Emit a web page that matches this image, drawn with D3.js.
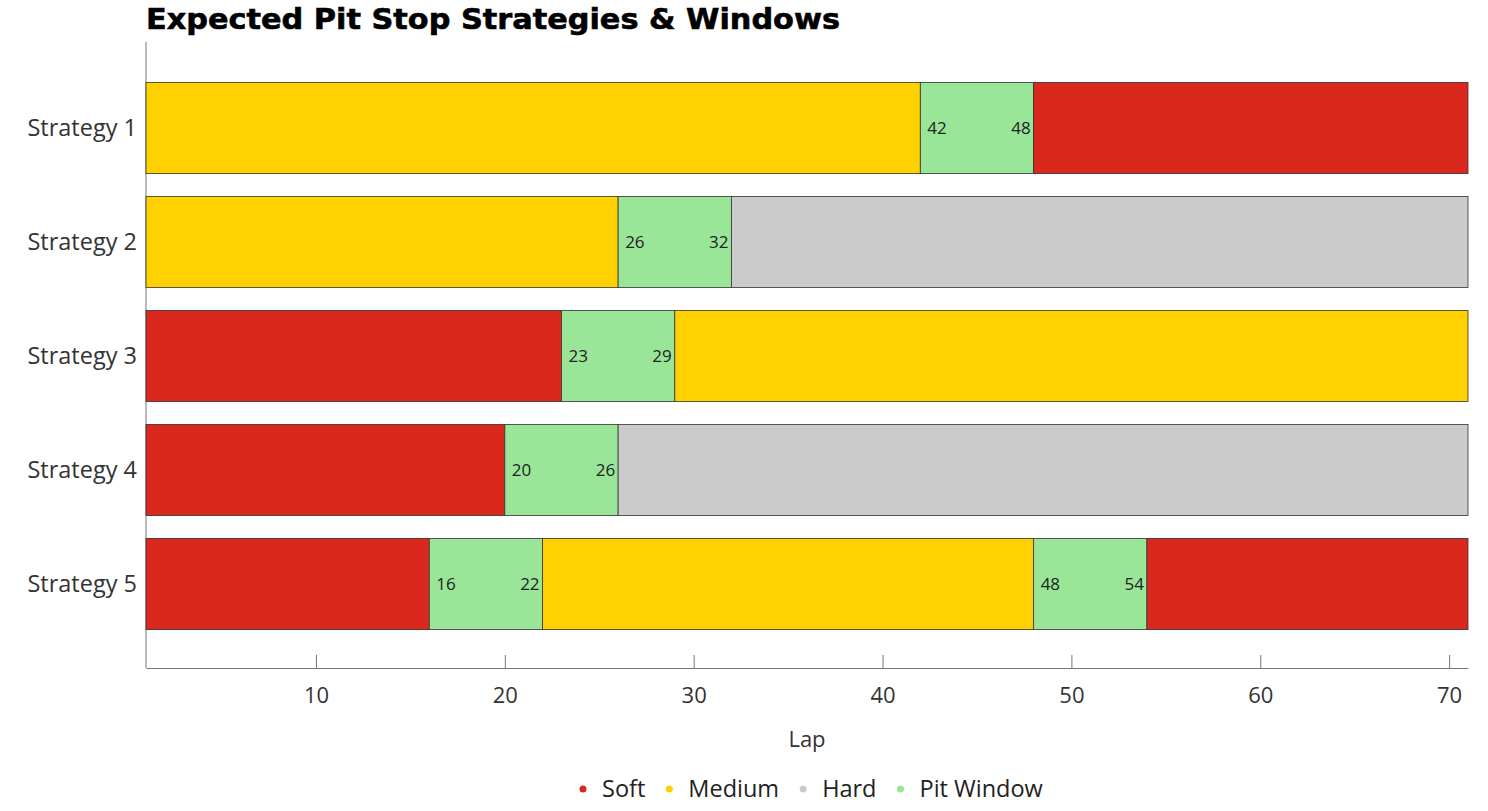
<!DOCTYPE html>
<html><head><meta charset="utf-8">
<script src="https://cdn.jsdelivr.net/npm/d3@7"></script>
<style>body{margin:0;background:#fff}svg{display:block}</style>
</head><body>
<script>
const strategies = ["Strategy 1","Strategy 2","Strategy 3","Strategy 4","Strategy 5"];
const segStart = [[1,42,48],[1,26,32],[1,23,29],[1,20,26],[1,16,22,48,54]];
const segEnd   = [[42,48,71],[26,32,71],[23,29,71],[20,26,71],[16,22,48,54,71]];
const segType  = [["Medium","Pit","Soft"],["Medium","Pit","Hard"],["Soft","Pit","Medium"],["Soft","Pit","Hard"],["Soft","Pit","Medium","Pit","Soft"]];
const legendLabels = ["Soft","Medium","Hard","Pit Window"];
const legendKeys = ["Soft","Medium","Hard","Pit"];
const xTicks = [10,20,30,40,50,60,70];
const lapDomain = [1,71];

const colors = {Soft:"#DA291C", Medium:"#FFD100", Hard:"#CBCBCB", Pit:"#99E699"};
const W=1488,H=811;
const svg=d3.select("body").append("svg").attr("width",W).attr("height",H);
const font="'Open Sans', sans-serif";
const x=d3.scaleLinear().domain(lapDomain).range([146,1468]);
const y=d3.scaleBand().domain(strategies).range([71,641]).paddingInner(0.2).paddingOuter(0.1);

svg.append("text").attr("x",146).attr("y",29).text("Expected Pit Stop Strategies & Windows")
  .attr("font-family","'DejaVu Sans', sans-serif").attr("font-weight","bold").attr("font-size",29)
  .attr("textLength",694).attr("lengthAdjust","spacingAndGlyphs").attr("fill","#000")
  .attr("stroke","#000").attr("stroke-width",0.6);

// axes
const gx=svg.append("g").attr("transform","translate(0,668)")
  .call(d3.axisBottom(x).tickValues(xTicks).tickSize(-13).tickPadding(28).tickSizeOuter(0));
gx.select(".domain").attr("stroke","#777");
gx.selectAll(".tick line").attr("stroke","#777");
gx.selectAll(".tick text").attr("font-family",font).attr("font-size",22).attr("fill","#333").attr("dy","0.3em");
svg.append("line").attr("x1",146).attr("x2",146).attr("y1",42).attr("y2",668).attr("stroke","#777");

strategies.forEach((s,i)=>{
  svg.append("text").attr("x",137).attr("y",y(s)+y.bandwidth()/2).attr("dy","0.35em")
    .attr("text-anchor","end").attr("font-family",font).attr("font-size",23.5).attr("fill","#333").text(s);
  segStart[i].forEach((st,j)=>{
    const en=segEnd[i][j], t=segType[i][j];
    svg.append("rect").attr("x",x(st)).attr("y",y(s)).attr("width",x(en)-x(st)).attr("height",y.bandwidth())
      .attr("fill",colors[t]).attr("stroke","#333").attr("stroke-width",0.8);
    if(t==="Pit"){
      const cy=y(s)+y.bandwidth()/2;
      svg.append("text").attr("x",x(st)+7).attr("y",cy).attr("dy","0.35em").attr("font-family",font)
        .attr("font-size",17).attr("fill","#222").text(st);
      svg.append("text").attr("x",x(en)-3).attr("y",cy).attr("dy","0.35em").attr("text-anchor","end")
        .attr("font-family",font).attr("font-size",17).attr("fill","#222").text(en);
    }
  });
});

svg.append("text").attr("x",807).attr("y",739).attr("dy","0.35em").attr("text-anchor","middle")
  .attr("font-family",font).attr("font-size",22).attr("fill","#333").text("Lap");

// legend
const lg=svg.append("g");
let lx=0;
legendLabels.forEach((l,i)=>{
  const g=lg.append("g");
  g.append("circle").attr("cx",0).attr("cy",0).attr("r",3.5).attr("fill",colors[legendKeys[i]]);
  const t=g.append("text").attr("x",19).attr("y",0).attr("dy","0.35em").attr("font-family",font)
    .attr("font-size",23.5).attr("fill","#222").text(l);
  const w=19+t.node().getComputedTextLength();
  g.attr("transform",`translate(${lx},789)`);
  lx+=w+24;
});
const total=lx-24;
lg.attr("transform",`translate(${583},0)`);
</script>
</body></html>
